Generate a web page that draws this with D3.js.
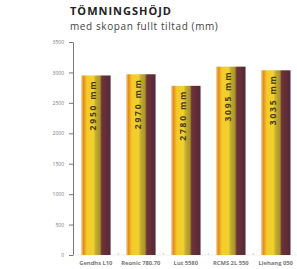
<!DOCTYPE html>
<html>
<head>
<meta charset="utf-8">
<script src="https://cdn.jsdelivr.net/npm/d3@7"></script>
<style>
  body { margin: 0; background: #fff; }
  svg { display: block; }
</style>
</head>
<body>
<svg id="chart" width="297" height="269"></svg>
<script>
const models = ["Gendhs L10", "Reonic 780.70", "Lut 5580", "RCMS 2L 550", "Liehang 050"];
const heights = [2950, 2970, 2780, 3095, 3035];
const yTicks = [0, 500, 1000, 1500, 2000, 2500, 3000, 3500];

const svg = d3.select('#chart');

const x = d3.scaleBand().domain(models).range([73, 298.6]).paddingInner(0.344).paddingOuter(0.18);
const y = d3.scaleLinear().domain([0, 3500]).range([255, 42]);

// bar shading: orange edge, yellow, olive, maroon
const defs = svg.append('defs');
const grad = defs.append('linearGradient').attr('id', 'barGrad').attr('x1', '0%').attr('x2', '100%');
[
  [0, '#f6d7a8'], [0.08, '#e58a1c'], [0.2, '#f3cc28'], [0.42, '#f0d030'],
  [0.5, '#c4ac2c'], [0.64, '#a89430'], [0.7, '#6e3436'], [1, '#55283a']
].forEach(([o, c]) => grad.append('stop').attr('offset', o).attr('stop-color', c));

svg.append('text').text('TÖMNINGSHÖJD')
  .attr('x', 70).attr('y', 15).attr('font-family', 'Open Sans').attr('font-weight', 'bold')
  .attr('font-size', '11px').attr('letter-spacing', '1px').attr('fill', '#222');
svg.append('text').text('med skopan fullt tiltad (mm)')
  .attr('x', 70).attr('y', 30).attr('font-family', 'Open Sans')
  .attr('font-size', '10px').attr('letter-spacing', '0.6px').attr('fill', '#444');

const yAxis = svg.append('g').attr('transform', 'translate(73,0)')
  .call(d3.axisLeft(y).tickValues(yTicks).tickFormat(d3.format('d')).tickSize(4).tickSizeOuter(0));
yAxis.select('.domain').attr('stroke', '#777');
yAxis.selectAll('.tick line').attr('stroke', '#777');
yAxis.selectAll('.tick text').attr('font-family', 'Open Sans').attr('font-size', '5px')
  .attr('fill', '#777').attr('x', -9);

// small baseline ticks between bars
const base = svg.append('g');
base.selectAll('line').data(models).enter().append('line')
  .attr('x1', d => x(d) + x.bandwidth() + x.step() * 0.172)
  .attr('x2', d => x(d) + x.bandwidth() + x.step() * 0.172)
  .attr('y1', y(0) - 2).attr('y2', y(0)).attr('stroke', '#aaa').attr('stroke-width', 0.6);
base.append('line').attr('x1', 73).attr('x2', 298).attr('y1', y(0)).attr('y2', y(0))
  .attr('stroke', '#ddd').attr('stroke-width', 0.5);

const bar = svg.selectAll('.bar').data(models).enter().append('g').attr('class', 'bar');
bar.append('rect')
  .attr('x', d => x(d)).attr('y', (d, i) => y(heights[i]))
  .attr('width', x.bandwidth()).attr('height', (d, i) => y(0) - y(heights[i]))
  .attr('fill', 'url(#barGrad)');
bar.append('text').text((d, i) => heights[i] + ' mm')
  .attr('transform', (d, i) => `translate(${x(d) + x.bandwidth() * 0.42},${y(heights[i]) + 4}) rotate(-90)`)
  .attr('text-anchor', 'end').attr('dy', '0.35em')
  .attr('font-family', 'Open Sans').attr('font-weight', 'bold').attr('font-size', '8.5px')
  .attr('letter-spacing', '1.8px').attr('fill', '#4a3a1a');

svg.selectAll('.xlab').data(models).enter().append('text').attr('class', 'xlab')
  .text(d => d).attr('x', d => x(d) + x.bandwidth() / 2).attr('y', 265)
  .attr('text-anchor', 'middle').attr('font-family', 'Open Sans').attr('font-weight', 'bold')
  .attr('font-size', '5.8px').attr('fill', '#777');
</script>
</body>
</html>
